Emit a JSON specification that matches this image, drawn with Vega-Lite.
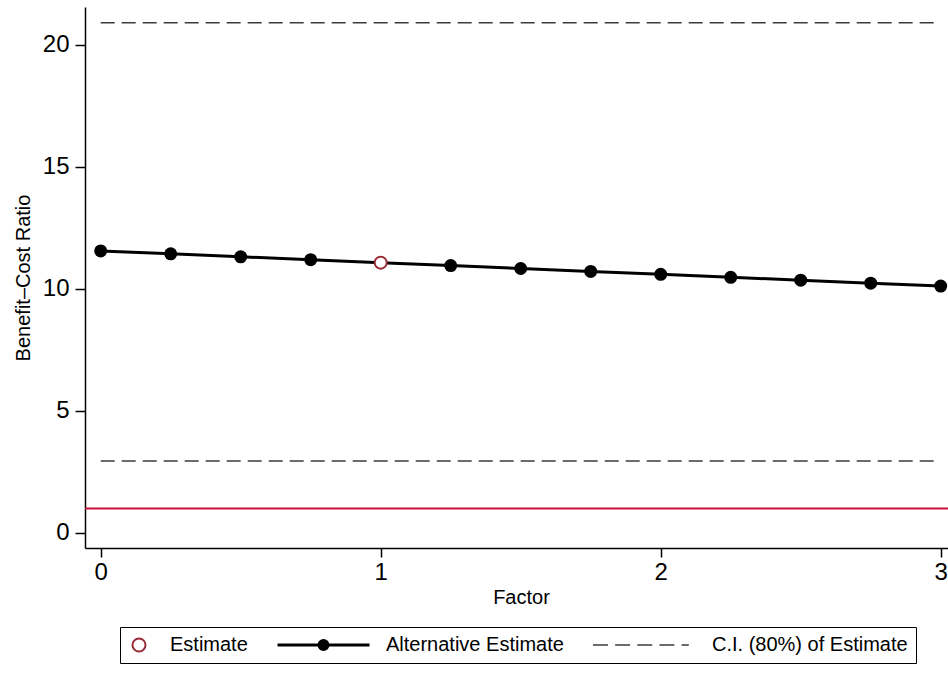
{
  "$schema": "https://vega.github.io/schema/vega-lite/v6.json",
  "width": 863,
  "height": 541,
  "autosize": {"type": "none"},
  "padding": {"left": 85, "top": 7, "right": 0, "bottom": 125},
  "background": "white",
  "datasets": {
    "alt": [
      {"factor": 0, "bcr": 11.56},
      {"factor": 0.25, "bcr": 11.44},
      {"factor": 0.5, "bcr": 11.32},
      {"factor": 0.75, "bcr": 11.2},
      {"factor": 1, "bcr": 11.08},
      {"factor": 1.25, "bcr": 10.96},
      {"factor": 1.5, "bcr": 10.84},
      {"factor": 1.75, "bcr": 10.72},
      {"factor": 2, "bcr": 10.6},
      {"factor": 2.25, "bcr": 10.48},
      {"factor": 2.5, "bcr": 10.36},
      {"factor": 2.75, "bcr": 10.24},
      {"factor": 3, "bcr": 10.12}
    ],
    "est": [{"factor": 1, "bcr": 11.08}],
    "ci": [
      {"lo": 0, "hi": 3, "bcr": 20.91},
      {"lo": 0, "hi": 3, "bcr": 2.95}
    ],
    "ref": [{"bcr": 1}],
    "legend": [
      {"series": "Estimate"},
      {"series": "Alternative Estimate"},
      {"series": "C.I. (80%) of Estimate"}
    ]
  },
  "config": {
    "view": {"stroke": null},
    "axis": {
      "grid": false,
      "domainColor": "black",
      "domainWidth": 1.5,
      "tickColor": "black",
      "tickWidth": 1.5,
      "labelColor": "black",
      "titleColor": "black",
      "labelFont": "Liberation Sans",
      "titleFont": "Liberation Sans",
      "titleFontWeight": "normal",
      "labelFlush": false,
      "labelOverlap": false,
      "labelBound": false
    }
  },
  "layer": [
    {
      "data": {"name": "ref"},
      "mark": {"type": "rule", "color": "#c8103a", "strokeWidth": 2},
      "encoding": {
        "y": {"field": "bcr", "type": "quantitative", "scale": {"domain": [-0.615, 21.557], "nice": false, "zero": false},
          "axis": {"values": [0, 5, 10, 15, 20], "format": "d", "labelFontSize": 24, "tickSize": 10, "labelPadding": 6, "title": "Benefit–Cost Ratio", "titleFontSize": 20, "titlePadding": 9}}
      }
    },
    {
      "data": {"name": "ci"},
      "mark": {"type": "rule", "color": "#3c3c3c", "strokeWidth": 1.5, "strokeDash": [14, 7]},
      "encoding": {
        "x": {"field": "lo", "type": "quantitative", "scale": {"domain": [-0.056, 3.026], "nice": false, "zero": false},
          "axis": {"values": [0, 1, 2, 3], "format": "d", "labelFontSize": 24, "tickSize": 9, "labelPadding": 3, "title": "Factor", "titleFontSize": 20, "titlePadding": 3, "titleX": 436}},
        "x2": {"field": "hi"},
        "y": {"field": "bcr", "type": "quantitative"}
      }
    },
    {
      "data": {"name": "alt"},
      "mark": {"type": "line", "color": "black", "strokeWidth": 3},
      "encoding": {
        "x": {"field": "factor", "type": "quantitative"},
        "y": {"field": "bcr", "type": "quantitative"}
      }
    },
    {
      "data": {"name": "alt"},
      "mark": {"type": "point", "filled": true, "color": "black", "size": 169, "opacity": 1},
      "encoding": {
        "x": {"field": "factor", "type": "quantitative"},
        "y": {"field": "bcr", "type": "quantitative"}
      }
    },
    {
      "data": {"name": "est"},
      "mark": {"type": "point", "filled": false, "fill": "white", "fillOpacity": 1, "stroke": "#9b2c35", "strokeWidth": 2, "size": 144, "opacity": 1},
      "encoding": {
        "x": {"field": "factor", "type": "quantitative"},
        "y": {"field": "bcr", "type": "quantitative"}
      }
    },
    {
      "data": {"name": "legend"},
      "mark": {"type": "point", "filled": true, "opacity": 0},
      "encoding": {
        "x": {"datum": 1, "type": "quantitative"},
        "y": {"datum": 11.08, "type": "quantitative"},
        "shape": {
          "field": "series", "type": "nominal",
          "scale": {
            "domain": ["Estimate", "Alternative Estimate", "C.I. (80%) of Estimate"],
            "range": [
              "M0.32,0A0.52,0.52,0,1,1,-0.72,0A0.52,0.52,0,1,1,0.32,0Z",
              "M-1,0H1M0.098,0A0.098,0.098,0,1,1,-0.098,0A0.098,0.098,0,1,1,0.098,0ZM0.035,0A0.035,0.035,0,1,1,-0.035,0A0.035,0.035,0,1,1,0.035,0Z",
              "M-1,0H-0.71M-0.57,0H-0.28M-0.14,0H0.15M0.29,0H0.58M0.72,0H0.86"
            ]
          },
          "legend": {
            "orient": "none",
            "legendX": 35,
            "legendY": 620,
            "direction": "horizontal",
            "title": null,
            "labelFont": "Liberation Sans",
            "labelFontSize": 20,
            "labelColor": "black",
            "labelLimit": 0,
            "labelOffset": 15,
            "columnPadding": 28,
            "padding": 8,
            "clipHeight": 20,
            "strokeColor": "black",
            "fillColor": "white",
            "symbolOpacity": 1
          }
        },
        "size": {
          "field": "series", "type": "ordinal",
          "scale": {"type": "ordinal", "domain": ["Estimate", "Alternative Estimate", "C.I. (80%) of Estimate"], "range": [625, 8464, 10609]}
        },
        "fill": {
          "field": "series", "type": "nominal",
          "scale": {"domain": ["Estimate", "Alternative Estimate", "C.I. (80%) of Estimate"], "range": ["white", "black", "transparent"]}
        },
        "stroke": {
          "field": "series", "type": "nominal",
          "scale": {"domain": ["Estimate", "Alternative Estimate", "C.I. (80%) of Estimate"], "range": ["#9b2c35", "black", "#3c3c3c"]}
        },
        "strokeWidth": {
          "field": "series", "type": "ordinal",
          "scale": {"type": "ordinal", "domain": ["Estimate", "Alternative Estimate", "C.I. (80%) of Estimate"], "range": [2, 3, 1.5]}
        }
      }
    }
  ]
}
